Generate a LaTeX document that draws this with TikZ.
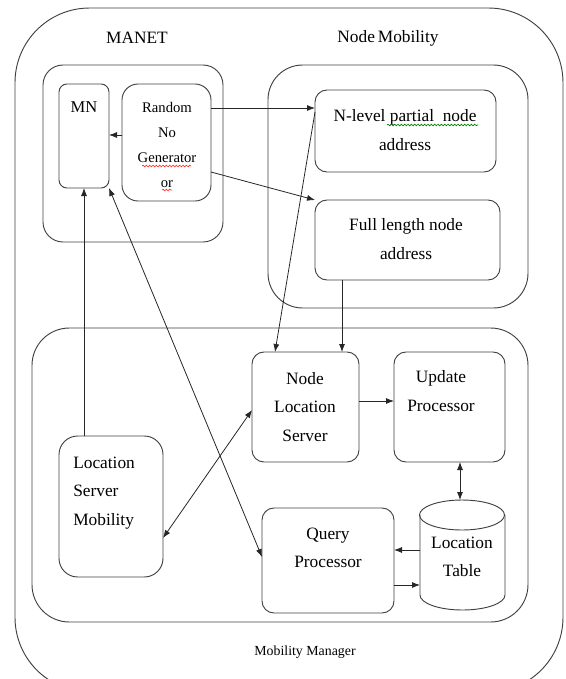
\documentclass[tikz,border=0pt]{standalone}
\usepackage{fontspec}
\setmainfont{Liberation Serif}
\newfontfamily\timesfam{Liberation Serif}
\usetikzlibrary{fit,arrows.meta,decorations.pathmorphing}

\begin{document}
\begin{tikzpicture}[x=0.75pt,y=-0.75pt,
    every node/.style={font=\timesfam\fontsize{13}{21.5}\selectfont},
    grp/.style={draw=black!75, line width=0.7pt, inner sep=0pt, outer sep=0pt},
    box/.style={grp, rounded corners=9pt},
    txt/.style={align=center, inner sep=0pt},
    arr/.style={draw=black!85, line width=0.6pt, -{Latex[length=6pt,width=4.5pt]}},
    darr/.style={arr, {Latex[length=6pt,width=4.5pt]}-{Latex[length=6pt,width=4.5pt]}},
    squig/.style={decorate, decoration={snake, amplitude=0.6pt, segment length=2.5pt}, line width=0.5pt}]
	\useasboundingbox (0,0) rectangle (566,679);
	\clip (0,0) rectangle (566,679);
	% groups
	\node[grp, rounded corners=56pt, fit={(15,8) (563,692)}] (outer) {};
	\node[grp, rounded corners=15pt, fit={(43,65) (223,242)}] (manet) {};
	\node[grp, rounded corners=26pt, fit={(268,65) (528,308)}] (nmob) {};
	\node[grp, rounded corners=28pt, fit={(32,328) (528,622)}] (mman) {};
	\node[txt] (manet-t) at (137,38) {MANET};
	\node[txt] (nmob-t) at (388,38) {Node\,Mobility};
	\node[txt, font=\timesfam\fontsize{10.4}{12}\selectfont] (mman-t) at (305,652) {Mobility Manager};
	% MANET part
	\node[box, rounded corners=6pt, fit={(59,84) (109,188)}] (mn) {};
	\node[txt, font=\timesfam\fontsize{12.4}{15}\selectfont] (mn-t) at (84,107) {MN};
	\node[box, rounded corners=12pt, fit={(122,84) (211,201)}] (rng) {};
	\node[txt, font=\timesfam\fontsize{11}{18.75}\selectfont] (rng-t) at (167,145) {Random\\No\\Generator\\or};
	\draw[squig, red!80] (142,166) -- (191,166);
	\draw[squig, red!80] (162,190) -- (172,190);
	% node mobility part
	\node[box, fit={(315,90) (496,172)}] (nlp) {};
	\node[txt] (nlp-t) at (405,130) {N-level partial\ \ node\\address};
	\draw[squig, green!50!black] (387,125) -- (478,125);
	\node[box, fit={(315,200) (500,280)}] (full) {};
	\node[txt] (full-t) at (406,239) {Full length node\\address};
	% mobility manager part
	\node[box, fit={(252,352) (359,462)}] (nls) {};
	\node[txt] (nls-t) at (305,407) {Node\\Location\\Server};
	\node[box, fit={(394,352) (505,462)}] (up) {};
	\node[txt] (up-t) at (441,391) {Update\\Processor};
	\node[box, fit={(262,508) (394,613)}] (qp) {};
	\node[txt] (qp-t) at (328,548) {Query\\Processor};
	\node[box, rounded corners=14pt, fit={(59,436) (163,577)}] (lsm) {};
	\node[txt, align=left, anchor=west] (lsm-t) at (73,493) {Location\\Server\\Mobility};
	\node[inner sep=0pt, outer sep=0pt, fit={(420,500) (505,610)}] (lt) {};
	\draw[draw=black!75, line width=0.7pt] (462,515) ellipse[x radius=31.875pt, y radius=11.25pt];
	\draw[draw=black!75, line width=0.7pt] (420,515) -- (420,595)
		arc[start angle=180, end angle=360, x radius=31.875pt, y radius=11.25pt] -- (505,515);
	\node[txt] (lt-t) at (462,557) {Location\\Table};
	% connectors
	\draw[arr] (rng.west |- 0,135) -- (mn.east |- 0,135);
	\draw[arr] (rng.east |- 0,108) -- (nlp.west |- 0,108);
	\draw[arr] (rng.east |- 0,172) -- (full.north west);
	\draw[arr] (lsm.north -| mn.south) -- (mn.south);
	\draw[darr] (mn.south east) -- (qp.west |- 0,557);
	\draw[darr] (lsm.east |- 0,538) -- (nls.west |- 0,410);
	\draw[arr] (nlp.west |- 0,112) -- (nls.north -| 275,0);
	\draw[arr] (full.south -| 342,0) -- (nls.north -| 342,0);
	\draw[arr] (nls.east |- 0,401) -- (up.west |- 0,401);
	\draw[darr] (up.south -| 460,0) -- (lt.north -| 460,0);
	\draw[arr] (lt.west |- 0,550) -- (qp.east |- 0,550);
	\draw[arr] (qp.east |- 0,585) -- (lt.west |- 0,585);
\end{tikzpicture}
\end{document}
